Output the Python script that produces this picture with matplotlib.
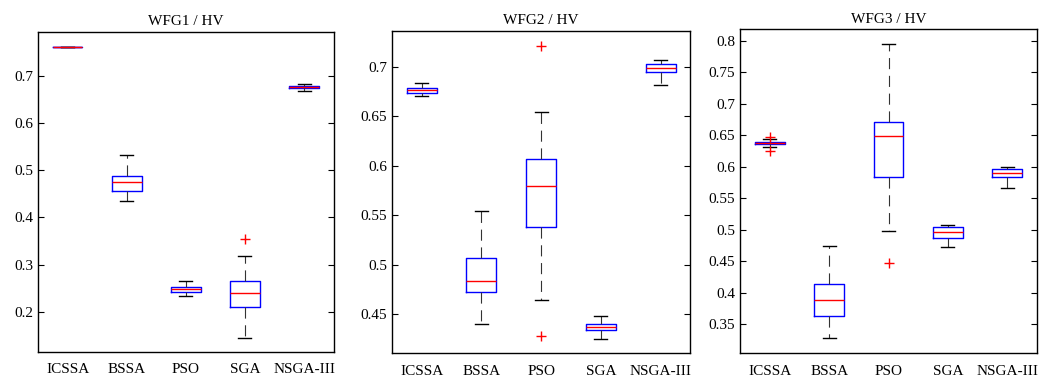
import numpy as np
import matplotlib
matplotlib.use("Agg")
import matplotlib.pyplot as plt

plt.rcParams["font.family"] = ["Liberation Serif", "DejaVu Serif"]

algos = ["ICSSA", "BSSA", "PSO", "SGA", "NSGA-III"]
titles = ["WFG1 / HV", "WFG2 / HV", "WFG3 / HV"]

# box stats per problem: lower whisker, q1, median, q3, upper whisker, outliers
wfg1_lo = [0.7600, 0.4338, 0.2338, 0.1451, 0.6676]
wfg1_q1 = [0.7602, 0.4570, 0.2423, 0.2106, 0.6732]
wfg1_med = [0.7607, 0.4746, 0.2479, 0.2394, 0.6754]
wfg1_q3 = [0.7612, 0.4887, 0.2528, 0.2648, 0.6789]
wfg1_hi = [0.7615, 0.5330, 0.2648, 0.3176, 0.6831]
wfg1_out = [[], [], [], [0.3542], []]

wfg2_lo = [0.6708, 0.4403, 0.4644, 0.4255, 0.6815]
wfg2_q1 = [0.6738, 0.4722, 0.5384, 0.4339, 0.6943]
wfg2_med = [0.6761, 0.4833, 0.5794, 0.4369, 0.6990]
wfg2_q3 = [0.6785, 0.5071, 0.6069, 0.4403, 0.7030]
wfg2_hi = [0.6839, 0.5545, 0.6543, 0.4487, 0.7067]
wfg2_out = [[], [], [0.7212, 0.4278], [], []]

wfg3_lo = [0.6317, 0.3272, 0.4972, 0.4728, 0.5655]
wfg3_q1 = [0.6354, 0.3627, 0.5835, 0.4866, 0.5835]
wfg3_med = [0.6375, 0.3887, 0.6491, 0.4967, 0.5898]
wfg3_q3 = [0.6396, 0.4135, 0.6708, 0.5046, 0.5957]
wfg3_hi = [0.6433, 0.4739, 0.7947, 0.5078, 0.5999]
wfg3_out = [[0.6475, 0.6242], [], [0.4474], [], []]

panels = [
    (wfg1_lo, wfg1_q1, wfg1_med, wfg1_q3, wfg1_hi, wfg1_out),
    (wfg2_lo, wfg2_q1, wfg2_med, wfg2_q3, wfg2_hi, wfg2_out),
    (wfg3_lo, wfg3_q1, wfg3_med, wfg3_q3, wfg3_hi, wfg3_out),
]
ylims = [(0.1155, 0.793), (0.4107, 0.736), (0.3034, 0.818)]
yticks = [np.arange(0.2, 0.71, 0.1), np.arange(0.45, 0.701, 0.05), np.arange(0.35, 0.801, 0.05)]
positions = [
    [0.036, 0.069, 0.279, 0.847],
    [0.370, 0.065, 0.282, 0.853],
    [0.699, 0.065, 0.280, 0.857],
]

fig = plt.figure(figsize=(10.59, 3.78), dpi=100)
for k, (lo, q1, med, q3, hi, out) in enumerate(panels):
    ax = fig.add_axes(positions[k])
    stats = [dict(label=a, whislo=lo[i], q1=q1[i], med=med[i], q3=q3[i],
                  whishi=hi[i], fliers=out[i]) for i, a in enumerate(algos)]
    ax.bxp(stats, widths=0.5,
           boxprops=dict(color="blue", lw=1),
           medianprops=dict(color="red", lw=1),
           whiskerprops=dict(color="#333333", lw=0.8, ls=(0, (10, 6))),
           capprops=dict(color="black", lw=1),
           capwidths=0.22,
           flierprops=dict(marker="+", markeredgecolor="red", markersize=7, mew=1))
    ax.set_xlim(0.5, 5.5)
    ax.set_ylim(*ylims[k])
    ax.set_yticks(yticks[k])
    ax.set_yticklabels([f"{v:g}" for v in np.round(yticks[k], 2)])
    ax.tick_params(axis="y", direction="in", right=True, length=4, labelsize=11)
    ax.tick_params(axis="x", length=0, labelsize=11, pad=8)
    ax.set_title(titles[k], fontsize=11, pad=5)
    for s in ax.spines.values():
        s.set_linewidth(1)

fig.savefig("out.png", dpi=100)
